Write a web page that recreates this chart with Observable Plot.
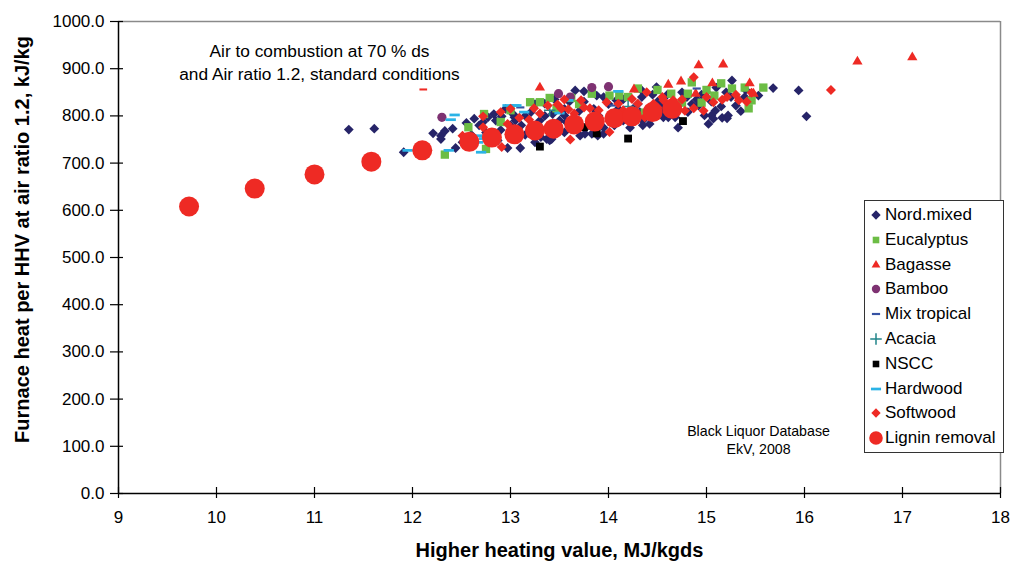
<!DOCTYPE html>
<html><head><meta charset="utf-8">
<script src="https://cdn.jsdelivr.net/npm/d3@7"></script>
<script src="https://cdn.jsdelivr.net/npm/@observablehq/plot@0.6"></script>
<style>
body{margin:0;background:#fff;font-family:"Liberation Sans",Arial,sans-serif}
#wrap{position:relative;width:1014px;height:568px;overflow:hidden}
#legend{position:absolute;left:864px;top:200px;width:140px;height:253px;border:1px solid #333;background:#fff;box-sizing:border-box}
.row{position:absolute;left:4px;height:20px;display:flex;align-items:center;font-size:17px;color:#000;white-space:nowrap}
.row svg{margin-right:2px}
</style></head><body><div id="wrap"></div>
<script>
// ---- data: [HHV MJ/kgds, furnace heat kJ/kg] ----
const nordMixed = [[11.35,771],[11.61,773],[11.91,723],[12.21,763],[12.29,758],[12.29,751],[12.33,768],[12.41,773],[12.44,732],[12.51,744],[12.63,794],[12.68,780],[12.72,787],[12.77,797],[12.83,804],[12.87,748],[12.91,799],[12.97,732],[13.03,803],[13.04,797],[13.10,732],[13.11,780],[13.21,808],[13.25,744],[13.31,755],[13.35,826],[13.37,751],[13.40,748],[13.42,751],[13.43,804],[13.55,801],[13.57,787],[13.66,854],[13.69,773],[13.71,758],[13.75,852],[13.76,762],[13.83,762],[13.88,843],[13.89,758],[13.95,762],[14.06,780],[14.08,833],[14.20,801],[14.22,775],[14.32,808],[14.34,854],[14.34,840],[14.42,783],[14.44,808],[14.49,861],[14.54,811],[14.56,797],[14.61,797],[14.68,797],[14.71,775],[14.81,808],[14.92,822],[14.98,801],[15.02,783],[15.05,801],[15.07,794],[15.09,811],[15.16,796],[15.21,795],[15.22,801],[15.26,875],[15.30,822],[15.39,840],[15.53,843],[15.68,859],[15.94,854],[16.02,799],[12.60,760],[12.75,765],[12.90,770],[13.00,780],[13.20,770],[13.30,790],[13.45,770],[13.50,790],[13.60,830],[13.70,810],[13.80,780],[13.90,800],[14.00,825],[14.10,815],[14.15,790],[14.30,825],[14.50,830],[14.60,845],[14.80,840],[14.90,835],[15.00,850],[15.10,860],[15.20,850],[15.40,855],[12.55,785],[12.85,790],[12.95,815],[13.05,790],[13.15,800],[13.25,825],[13.35,800],[13.45,835],[13.55,815],[13.65,795],[13.75,830],[13.85,815],[13.95,840],[14.05,805],[14.15,835],[14.25,815],[14.35,790],[14.45,845],[14.55,825],[14.65,805],[14.75,850],[14.85,825],[14.95,845],[15.05,830],[15.15,820],[15.25,840],[15.35,810],[13.15,760],[13.55,765],[13.95,775],[14.35,780]];
const eucalyptus = [[12.33,718],[12.57,776],[12.73,804],[12.75,730],[12.90,787],[13.00,812],[13.20,829],[13.30,829],[13.40,838],[13.47,816],[13.62,838],[13.70,825],[13.83,847],[14.01,843],[14.11,843],[14.20,840],[14.30,858],[14.37,807],[14.50,855],[14.64,847],[14.75,828],[14.81,847],[14.85,871],[14.95,828],[15.00,855],[15.08,843],[15.15,869],[15.26,858],[15.39,860],[15.43,816],[15.46,833],[15.58,860]];
const bagasse = [[13.30,860],[14.26,856],[14.61,866],[14.74,873],[14.89,847],[14.92,907],[15.06,869],[15.17,909],[15.44,869],[15.48,847],[16.54,915],[17.10,924]];
const bamboo = [[12.30,797],[13.49,847],[13.61,840],[13.83,860],[14.00,862]];
const mixTropical = [[13.10,818],[14.05,822],[14.90,858]];
const acacia = [[13.40,812],[14.20,820]];
const nscc = [[13.30,735],[13.75,776],[13.88,763],[14.20,752],[14.76,789]];
const hardwood = [[11.95,727],[12.37,727],[12.39,792],[12.43,802],[12.67,744],[12.70,723],[12.70,758],[12.73,752],[12.97,822],[13.04,822],[13.06,822],[13.14,808],[13.50,806],[13.59,833],[14.10,852]];
const softwood = [[12.51,758],[12.72,799],[12.72,776],[12.90,808],[12.91,734],[12.97,783],[13.00,815],[13.09,796],[13.19,792],[13.24,816],[13.30,805],[13.38,822],[13.48,824],[13.52,815],[13.55,835],[13.59,814],[13.61,750],[13.65,805],[13.72,833],[13.75,818],[13.81,816],[13.90,812],[13.98,829],[14.01,766],[14.01,797],[14.10,826],[14.11,801],[14.15,812],[14.20,790],[14.24,836],[14.30,826],[14.37,797],[14.39,850],[14.40,812],[14.46,826],[14.50,818],[14.55,840],[14.56,833],[14.61,822],[14.66,833],[14.70,820],[14.75,835],[14.78,811],[14.87,882],[14.87,816],[14.97,811],[15.00,840],[15.07,829],[15.16,834],[15.21,840],[15.30,845],[15.33,833],[15.41,830],[15.46,849],[16.27,855]];
const ligninRemoval = [[9.72,608],[10.39,646],[11.00,676],[11.58,703],[12.10,727],[12.58,745],[12.81,754],[13.04,761],[13.25,769],[13.44,773],[13.65,782],[13.86,788],[14.06,795],[14.24,799],[14.45,808],[14.65,815]];
const unlabeledRed = [[12.11,856]];

const xTicks = [9,10,11,12,13,14,15,16,17,18];
const yTicks = [0,100,200,300,400,500,600,700,800,900,1000];
const xLabel = "Higher heating value, MJ/kgds";
const yLabel = "Furnace heat per HHV at air ratio 1.2, kJ/kg";
const note1 = ["Air to combustion at 70 % ds", "and Air ratio 1.2, standard conditions"];
const note2 = ["Black Liquor Database", "EkV, 2008"];

// ---- styles ----
const dash = {draw(ctx, size){ const r = Math.sqrt(size/Math.PI); ctx.rect(-r*1.2, -r*0.32, r*2.4, r*0.64); }};
const series = [
  {name:"Nord.mixed", data:nordMixed, symbol:"diamond2", fill:"#262468", r:4.4},
  {name:"Eucalyptus", data:eucalyptus, symbol:"square2", fill:"#6CBD45", r:5.3},
  {name:"Bagasse", data:bagasse, symbol:"triangle2", fill:"#EE2A24", r:4.9},
  {name:"Bamboo", data:bamboo, symbol:"circle", fill:"#7E3272", r:4.6},
  {name:"Mix tropical", data:mixTropical, symbol:dash, fill:"#3652A3", r:3.4},
  {name:"Acacia", data:acacia, symbol:"plus", stroke:"#22858A", r:3.8},
  {name:"NSCC", data:nscc, symbol:"square2", fill:"#000000", r:5.0},
  {name:"Hardwood", data:hardwood, symbol:dash, fill:"#2BB3E6", r:4.3},
  {name:"Softwood", data:softwood, symbol:"diamond2", fill:"#EE2A24", r:4.5},
  {name:"Lignin removal", data:ligninRemoval, symbol:"circle", fill:"#EE2A24", r:10}
];

const pointMarks = [];
pointMarks.push(Plot.dot(unlabeledRed, {x:d=>d[0], y:d=>d[1], symbol:dash, r:3.2, fill:"#EE2A24", stroke:"none"}));
for (const s of series) {
  const opts = {x:d=>d[0], y:d=>d[1], symbol:s.symbol, r:s.r};
  if (s.fill) { opts.fill = s.fill; opts.stroke = "none"; } else { opts.stroke = s.stroke; opts.strokeWidth = 1.5; opts.fill = "none"; }
  pointMarks.push(Plot.dot(s.data, opts));
}
const chart = Plot.plot({
  width:1014, height:568,
  marginLeft:118, marginRight:14, marginTop:21, marginBottom:75,
  style:{fontFamily:"'Liberation Sans', Arial, sans-serif", fontSize:"17px", background:"#fff", color:"#000"},
  x:{domain:[9,18]},
  y:{domain:[0,1000]},
  marks:[
    Plot.ruleY([1000], {stroke:"#8a8a8a", strokeWidth:1.5}),
    Plot.ruleX([18], {stroke:"#8a8a8a", strokeWidth:1.5}),
    Plot.axisY(yTicks, {tickSize:8, tickPadding:6, tickFormat:d3.format(".1f"), label:null, strokeWidth:1.2, fontSize:17, letterSpacing:"0.8px"}),
    Plot.axisY(yTicks, {tickSize:-5, tickFormat:()=>"", label:null, strokeWidth:1.2}),
    Plot.axisX(xTicks, {tickSize:5, tickPadding:12, tickFormat:d=>String(d), label:null, strokeWidth:1.2, fontSize:17}),
    Plot.axisX(xTicks, {tickSize:-6, tickFormat:()=>"", label:null, strokeWidth:1.2}),
    ...pointMarks,
    Plot.ruleY([0], {stroke:"#000", strokeWidth:1.5}),
    Plot.ruleX([9], {stroke:"#000", strokeWidth:1.5}),
    Plot.text([xLabel], {frameAnchor:"bottom", dy:63, fontWeight:"bold", fontSize:20, text:d=>d}),
    Plot.text([yLabel], {frameAnchor:"left", dx:-96, dy:-18, rotate:-90, textAnchor:"middle", fontWeight:"bold", fontSize:20, text:d=>d}),
    Plot.text([note1.join("\n")], {frameAnchor:"top-left", dx:201, dy:19, lineHeight:1.35, fontSize:17.3, text:d=>d, textAnchor:"middle"}),
    Plot.text([note2.join("\n")], {frameAnchor:"bottom-right", dx:-242, dy:-40, lineHeight:1.25, fontSize:14.2, text:d=>d, textAnchor:"middle"})
  ]
});
const wrap = document.getElementById("wrap");
wrap.appendChild(chart);

// ---- legend ----
const legend = document.createElement("div");
legend.id = "legend";
const symMap = {diamond2:d3.symbolDiamond2, square2:d3.symbolSquare2, triangle2:d3.symbolTriangle2, circle:d3.symbolCircle, plus:d3.symbolPlus};
series.forEach((s, i) => {
  const row = document.createElement("div");
  row.className = "row";
  row.style.top = (4 + i*24.8) + "px";
  const svg = d3.create("svg").attr("width", 14).attr("height", 14);
  const type = typeof s.symbol === "string" ? symMap[s.symbol] : s.symbol;
  const rr = s.name === "Lignin removal" ? 6.8 : Math.min(s.r, 4.2);
  const path = svg.append("path").attr("transform","translate(7,7)").attr("d", d3.symbol(type, rr*rr*Math.PI)());
  if (s.fill) path.attr("fill", s.fill); else path.attr("fill","none").attr("stroke", s.stroke).attr("stroke-width",1.5);
  row.appendChild(svg.node());
  const t = document.createElement("span"); t.textContent = s.name; row.appendChild(t);
  legend.appendChild(row);
});
wrap.appendChild(legend);
</script></body></html>
